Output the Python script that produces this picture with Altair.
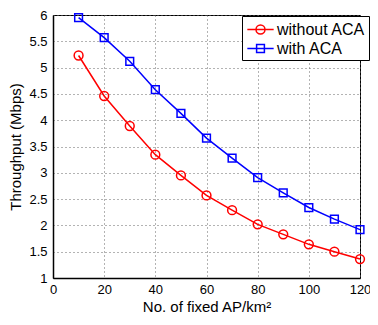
import altair as alt
import pandas as pd

x_vals = [10, 20, 30, 40, 50, 60, 70, 80, 90, 100, 110, 120]
without_aca = [5.23, 4.46, 3.89, 3.345, 2.95, 2.57, 2.29, 2.02, 1.83, 1.64, 1.50, 1.36]
with_aca = [5.95, 5.57, 5.12, 4.58, 4.13, 3.66, 3.28, 2.91, 2.62, 2.34, 2.12, 1.92]
series_names = ["without ACA", "with ACA"]
series_colors = ["#ff0000", "#0000ff"]
x_ticks = [0, 20, 40, 60, 80, 100, 120]
y_ticks = [1, 1.5, 2, 2.5, 3, 3.5, 4, 4.5, 5, 5.5, 6]

rows = []
for xv, yv in zip(x_vals, without_aca):
    rows.append({"x": xv, "y": yv, "series": series_names[0]})
for xv, yv in zip(x_vals, with_aca):
    rows.append({"x": xv, "y": yv, "series": series_names[1]})
df = pd.DataFrame(rows)

FONT = "Liberation Sans"

xenc = alt.X("x:Q", scale=alt.Scale(domain=[0, 120], nice=False),
             axis=alt.Axis(values=x_ticks, title="No. of fixed AP/km²", labelFlush=False))
yenc = alt.Y("y:Q", scale=alt.Scale(domain=[1, 6], nice=False, zero=False),
             axis=alt.Axis(values=y_ticks, title="Throughput (Mbps)", format="~g", labelFlush=False))
color_scale = alt.Scale(domain=series_names, range=series_colors)

lines = alt.Chart(df).mark_line(strokeWidth=1.5).encode(
    x=xenc, y=yenc,
    color=alt.Color("series:N", scale=color_scale, legend=None),
    detail="series:N",
)

points = alt.Chart(df).mark_point(filled=False, strokeWidth=1.5, opacity=1).encode(
    x=xenc, y=yenc,
    color=alt.Color("series:N", scale=color_scale, legend=None),
    shape=alt.Shape("series:N", scale=alt.Scale(domain=series_names, range=["circle", "square"]), legend=None),
    size=alt.Size("series:N", scale=alt.Scale(domain=series_names, range=[78, 60]), legend=None),
)

circle_path = "M-1.35,0L1.35,0M0.46,0A0.46,0.46 0 1,1 -0.46,0A0.46,0.46 0 1,1 0.46,0"
square_path = "M-1.35,0L1.35,0M-0.4,-0.4L0.4,-0.4L0.4,0.4L-0.4,0.4Z"

legend_layer = alt.Chart(df).transform_filter("false").mark_point(
    filled=False, strokeWidth=1.5, opacity=1
).encode(
    x=xenc, y=yenc,
    color=alt.Color("series:N", scale=color_scale,
                    legend=alt.Legend(title=None, orient="none", legendX=189, legendY=1,
                                      strokeColor="black", fillColor="white", padding=3,
                                      symbolSize=380, symbolStrokeWidth=1.5, symbolOffset=5,
                                      labelFontSize=16, labelFont=FONT, labelColor="black",
                                      labelOffset=6, rowPadding=0, symbolOpacity=1)),
    shape=alt.Shape("series:N", scale=alt.Scale(domain=series_names, range=[circle_path, square_path])),
)

chart = alt.layer(lines, points, legend_layer).resolve_scale(
    color="independent", shape="independent"
).properties(
    width=307, height=263,
    autosize=alt.AutoSizeParams(type="none"),
    padding={"left": 45, "top": 7, "right": 10, "bottom": 39},
).configure_view(
    stroke="black", strokeWidth=1
).configure_axis(
    labelFont=FONT, titleFont=FONT, labelFontSize=13, titleFontSize=15,
    labelColor="black", titleColor="black", titleFontWeight="normal",
    domainColor="black", domainWidth=1.5, ticks=False, labelPadding=6,
    grid=True, gridColor="#666666", gridDash=[1, 3], gridWidth=1, gridOpacity=1,
).configure_axisX(
    titlePadding=3, labelPadding=5
).configure_axisY(
    titlePadding=5
)

chart.save("out.html", embed_options={"renderer": "svg", "actions": False})
